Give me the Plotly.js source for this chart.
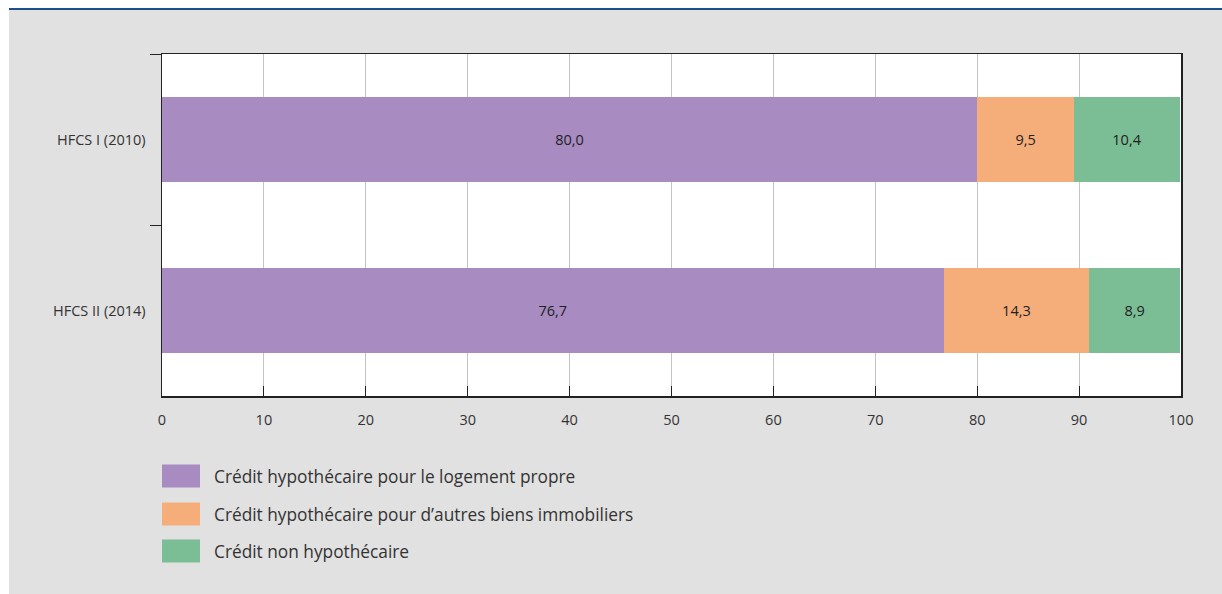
<!DOCTYPE html>
<html>
<head>
<meta charset="utf-8">
<script src="https://cdn.plot.ly/plotly-3.0.1.min.js"></script>
<style>
  body { margin: 0; background: #ffffff; }
  #panel {
    position: absolute; left: 9px; top: 8px; width: 1213px; height: 586px;
    background: #e1e1e1; border-top: 2px solid #1d4f8f;
  }
  #chart { position: absolute; left: 0; top: 0; width: 1222px; height: 594px; }
</style>
</head>
<body>
<div id="panel"></div>
<div id="chart"></div>
<script>
  // surveys (top to bottom) and shares in %
  var surveys = ["HFCS I (2010)", "HFCS II (2014)"];
  var seriesNames = [
    "Crédit hypothécaire pour le logement propre",
    "Crédit hypothécaire pour d’autres biens immobiliers",
    "Crédit non hypothécaire"
  ];
  var ownHome = [80.0, 76.7];
  var otherProperty = [9.5, 14.3];
  var nonMortgage = [10.4, 8.9];
  var colors = ["#a78bc1", "#f5ad7a", "#7bbd94"];

  var values = [ownHome, otherProperty, nonMortgage];
  var fontFamily = "'Open Sans', 'Noto Sans', sans-serif";

  var data = values.map(function (vals, i) {
    return {
      type: "bar",
      orientation: "h",
      y: surveys,
      x: vals,
      name: seriesNames[i],
      marker: { color: colors[i], line: { width: 0 } },
      width: 0.5,
      text: vals,
      texttemplate: "%{x:.1f}",
      textposition: "inside",
      insidetextanchor: "middle",
      textangle: 0,
      insidetextfont: { size: 14.5, color: "#222222", family: fontFamily },
      showlegend: false,
      hoverinfo: "skip"
    };
  });

  // legend drawn as large swatches with labels below the plot
  var shapes = [];
  var annotations = [];
  var rowY = [476, 514, 551];
  seriesNames.forEach(function (name, i) {
    var yc = (396 - rowY[i]) / 342;
    shapes.push({
      type: "rect", xref: "paper", yref: "paper",
      x0: 0, x1: 38 / 1019, y0: yc - 11.5 / 342, y1: yc + 11.5 / 342,
      fillcolor: colors[i], line: { width: 0 }
    });
    annotations.push({
      xref: "paper", yref: "paper", x: 50 / 1019, y: yc,
      xanchor: "left", yanchor: "middle", showarrow: false,
      text: name, font: { size: 17.3, color: "#333333", family: fontFamily }
    });
  });

  var layout = {
    width: 1222,
    height: 594,
    margin: { l: 162, r: 41, t: 54, b: 198 },
    paper_bgcolor: "rgba(0,0,0,0)",
    plot_bgcolor: "#ffffff",
    barmode: "stack",
    separators: ", ",
    font: { family: fontFamily, size: 14.5, color: "#333333" },
    xaxis: {
      range: [0, 100],
      dtick: 10,
      tick0: 0,
      showgrid: true,
      gridcolor: "#c4c4c4",
      gridwidth: 1,
      zeroline: false,
      showline: true,
      linecolor: "#222222",
      linewidth: 1.5,
      mirror: true,
      ticks: "inside",
      ticklen: 10,
      tickcolor: "#222222",
      ticklabelstandoff: 10,
      tickfont: { size: 14.5, color: "#333333" },
      fixedrange: true
    },
    yaxis: {
      autorange: "reversed",
      type: "category",
      tickson: "boundaries",
      ticks: "outside",
      ticklen: 11,
      tickcolor: "#222222",
      showgrid: false,
      showline: true,
      linecolor: "#222222",
      linewidth: 1.5,
      mirror: true,
      ticklabelstandoff: 12,
      tickfont: { size: 14.5, color: "#333333" },
      fixedrange: true
    },
    shapes: shapes,
    annotations: annotations
  };

  Plotly.newPlot("chart", data, layout, { displayModeBar: false, staticPlot: true });
</script>
</body>
</html>
